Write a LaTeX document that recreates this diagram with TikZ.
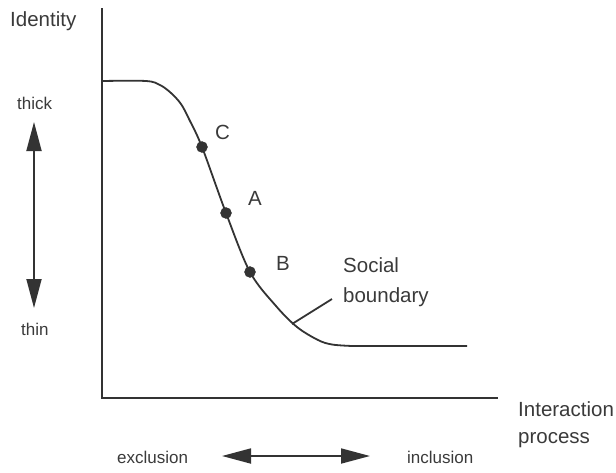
\documentclass[tikz,border=0pt]{standalone}
\usepackage{fontspec}
\setmainfont{Liberation Sans}
\usetikzlibrary{arrows.meta}
\definecolor{ink}{HTML}{333333}
\definecolor{txt}{HTML}{3A3A3A}
\begin{document}
\begin{tikzpicture}[x=1pt,y=-1pt,
  line/.style={draw=ink,line width=1.8pt},
  big/.style={inner sep=0pt,anchor=base west,text=txt,font=\fontsize{20.5}{24}\selectfont},
  small/.style={inner sep=0pt,anchor=base west,text=txt,font=\fontsize{17}{20}\selectfont},
  dot/.style={circle,fill=ink,draw=ink,inner sep=0pt,minimum size=11pt},
  dbl/.style={line,{Triangle[length=29pt,width=15pt]}-{Triangle[length=29pt,width=15pt]}}]
\useasboundingbox (0,0) rectangle (616,472);
% axes
\coordinate (ytop) at (102,8);
\coordinate (origin) at (102,398);
\coordinate (xend) at (498,398);
\draw[line] (ytop) -- (origin) -- (xend);
% curve
\draw[line,line join=round]
  plot[smooth,tension=0.55] coordinates {(102,81) (146,81) (160,85) (171,93) (181,104) (189,119) (202,147) (226,213) (250,272) (276,306) (297,327) (318,340) (332,344.5) (352,346)}
  -- (467,346);
% points
\node[dot] (C) at (202,147) {};
\node[dot] (A) at (226,213) {};
\node[dot] (B) at (250,272) {};
\node[big] (lC) at (215,139) {C};
\node[big] (lA) at (248,205) {A};
\node[big] (lB) at (276,270) {B};
% social boundary
\node[big] (soc) at (343,272) {Social};
\node[big] (bnd) at (343,302) {boundary};
\coordinate (sb1) at (292,324);
\coordinate (sb2) at (332,299);
\draw[line] (sb1) -- (sb2);
% y labels
\node[big] (ident) at (10,26) {Identity};
\node[small] (thick) at (17,109) {thick};
\node[small] (thin) at (21,335) {thin};
\coordinate (va) at (34,122);
\coordinate (vb) at (34,308);
\draw[dbl] (va) -- (vb);
% x labels
\node[big] (inter) at (518,416) {Interaction};
\node[big] (proc) at (518,443) {process};
\node[small] (excl) at (117,463) {exclusion};
\node[small] (incl) at (407,463) {inclusion};
\coordinate (ha) at (222,456);
\coordinate (hb) at (370,456);
\draw[dbl] (ha) -- (hb);
\end{tikzpicture}
\end{document}
